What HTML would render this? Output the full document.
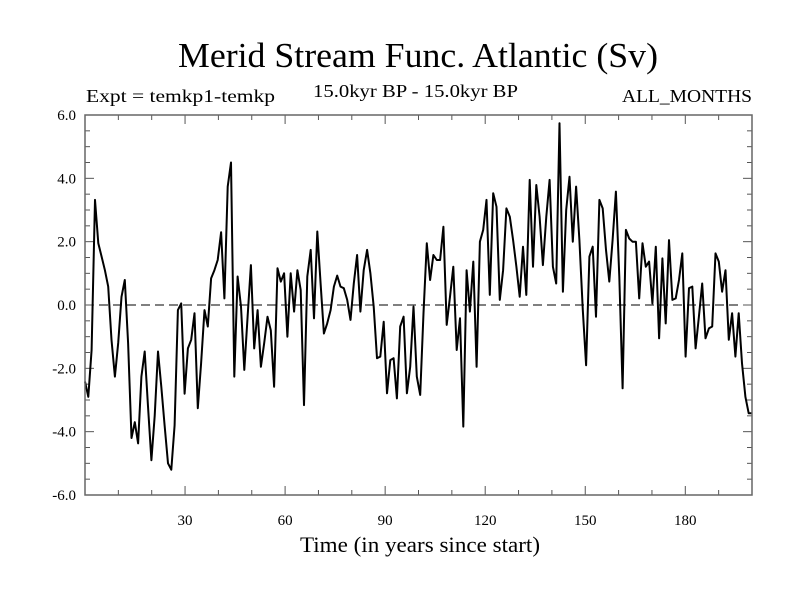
<!DOCTYPE html>
<html><head><meta charset="utf-8"><style>
body{margin:0;background:#fff;}
svg text{font-family:"Liberation Serif",serif;fill:#000;}
</style></head><body>
<svg id="chart" width="800" height="600" xmlns="http://www.w3.org/2000/svg">
<rect width="800" height="600" fill="#fff"/>
<text x="178" y="67" font-size="35" textLength="480" lengthAdjust="spacingAndGlyphs">Merid Stream Func. Atlantic (Sv)</text>
<text x="86" y="102" font-size="18" textLength="189" lengthAdjust="spacingAndGlyphs">Expt = temkp1-temkp</text>
<text x="313" y="97" font-size="18" textLength="205" lengthAdjust="spacingAndGlyphs">15.0kyr BP - 15.0kyr BP</text>
<text x="622" y="102" font-size="18" textLength="130" lengthAdjust="spacingAndGlyphs">ALL_MONTHS</text>
<g id="axes"></g>
<text x="300" y="552" font-size="22" textLength="240" lengthAdjust="spacingAndGlyphs">Time (in years since start)</text>
</svg>
<script>
const xTicks=[30,60,90,120,150,180];
const yTicks=[-6,-4,-2,0,2,4,6];
const yTickLabels=["-6.0","-4.0","-2.0","0.0","2.0","4.0","6.0"];
const values=[-2.42,-2.9,-1.42,3.32,1.95,1.53,1.1,0.58,-1.1,-2.26,-1.2,0.26,0.79,-1.2,-4.2,-3.7,-4.37,-2.26,-1.47,-3.2,-4.9,-3.5,-1.47,-2.58,-3.8,-5.0,-5.2,-3.8,-0.16,0.05,-2.8,-1.37,-1.1,-0.26,-3.26,-1.84,-0.16,-0.68,0.84,1.1,1.42,2.3,0.21,3.74,4.5,-2.26,0.9,-0.05,-2.05,-0.37,1.26,-1.37,-0.16,
-1.95,-1.2,-0.37,-0.8,-2.58,1.16,0.74,1.0,-1.0,1.0,-0.21,1.1,0.47,-3.16,0.9,1.74,-0.42,2.32,0.68,-0.9,-0.58,-0.16,0.58,0.93,0.58,0.53,0.16,-0.47,0.68,1.58,-0.21,1.1,1.74,1.0,-0.05,-1.68,-1.63,-0.53,-2.79,-1.74,-1.68,-2.95,-0.68,-0.37,-2.79,-1.95,-0.05,-2.26,-2.84,-0.26,1.95,
0.79,1.58,1.42,1.42,2.47,-0.63,0.26,1.21,-1.42,-0.42,-3.84,1.1,-0.21,1.37,-1.95,2.0,2.37,3.32,0.32,3.53,3.1,0.16,1.1,3.05,2.79,2.05,1.21,0.26,1.84,0.32,3.95,1.21,3.79,2.79,1.26,2.79,3.95,1.21,0.68,5.74,0.42,3.0,4.05,2.0,3.74,2.05,-0.16,-1.9,1.53,1.84,-0.37,
3.32,3.05,1.74,0.74,2.05,3.58,0.9,-2.63,2.37,2.1,2.0,2.0,0.21,1.95,1.21,1.37,0.05,1.84,-1.05,1.47,-0.58,2.05,0.16,0.21,0.79,1.63,-1.63,0.53,0.58,-1.37,-0.37,0.68,-1.05,-0.74,-0.68,1.63,1.37,0.42,1.1,-1.1,-0.26,-1.63,-0.26,-1.84,-2.9,-3.42,-3.42];
const L=85,R=752,T=115,B=495;
const n=values.length;
function xs(yr){return L+(yr)/200*(R-L);}
function xi(i){return L+i/(n-1)*(R-L);}
function ys(v){return T+(6-v)/12*(B-T);}
const NS="http://www.w3.org/2000/svg";
const g=document.getElementById('axes');
function mk(t,a){const e=document.createElementNS(NS,t);for(const k in a)e.setAttribute(k,a[k]);g.appendChild(e);return e;}
const z=mk('line',{x1:L,x2:R,y1:ys(0),y2:ys(0),stroke:'#000','stroke-width':1,'stroke-dasharray':'9,5'});


for(let v=-6;v<=6.001;v+=0.5){const maj=Math.abs(v/2-Math.round(v/2))<1e-6;const len=maj?9:5;
const t1=mk('line',{x1:L,x2:L+len,y1:ys(v),y2:ys(v),stroke:'#555','stroke-width':1});


const t2=mk('line',{x1:R,x2:R-len,y1:ys(v),y2:ys(v),stroke:'#555','stroke-width':1});

}
for(let yr=10;yr<200;yr+=10){const maj=yr%30===0;const len=maj?9:5;
const t1=mk('line',{x1:xs(yr),x2:xs(yr),y1:B,y2:B-len,stroke:'#555','stroke-width':1});


const t2=mk('line',{x1:xs(yr),x2:xs(yr),y1:T,y2:T+len,stroke:'#555','stroke-width':1});

}
yTicks.forEach((v,i)=>{const t=mk('text',{x:76,y:ys(v)+5,'font-size':15,'text-anchor':'end'});t.textContent=yTickLabels[i];

});
xTicks.forEach(v=>{const t=mk('text',{x:xs(v),y:525,'font-size':15,'text-anchor':'middle'});t.textContent=String(v);

});
const pts=values.map((v,i)=>xi(i).toFixed(1)+','+ys(v).toFixed(1)).join(' ');
const pl=mk('polyline',{points:pts,fill:'none',stroke:'#000','stroke-width':2,'stroke-linejoin':'round'});


const fr=mk('rect',{x:L,y:T,width:R-L,height:B-T,fill:'none',stroke:'#666','stroke-width':1.5});


</script>
</body></html>
